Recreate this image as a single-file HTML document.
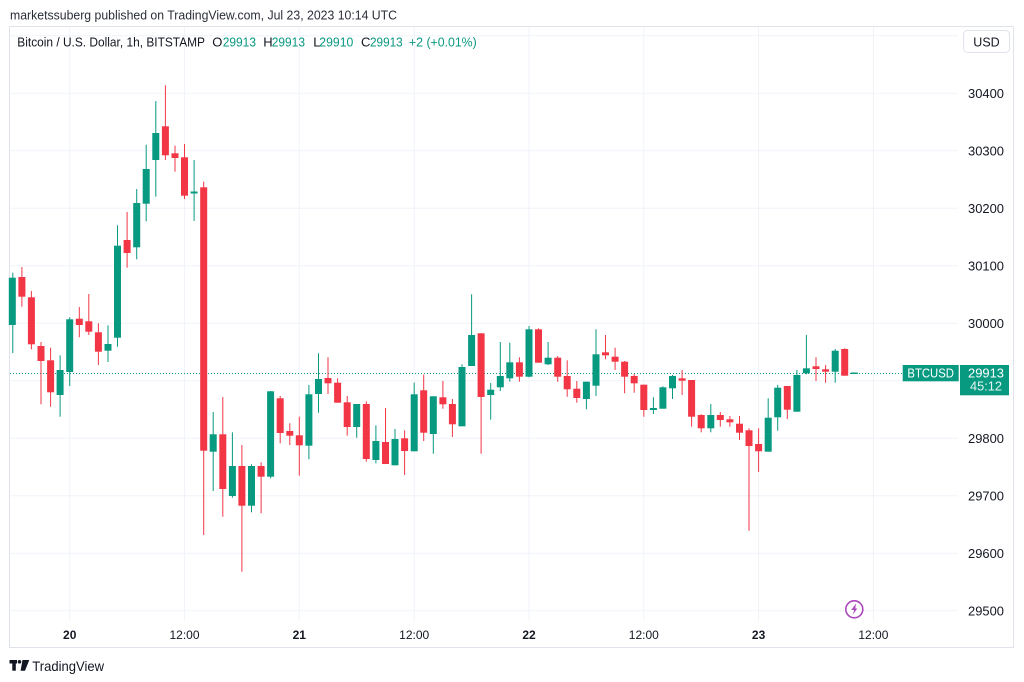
<!DOCTYPE html>
<html><head><meta charset="utf-8"><style>
html,body{margin:0;padding:0;background:#fff;width:1024px;height:682px;overflow:hidden}
svg{display:block}
text{font-family:"Liberation Sans",Arial,sans-serif}
</style></head><body>
<svg width="1024" height="682" viewBox="0 0 1024 682" xmlns="http://www.w3.org/2000/svg">
<rect width="1024" height="682" fill="#fff"/>
<text x="10" y="19.5" font-size="13" fill="#2a2e39" textLength="387" lengthAdjust="spacingAndGlyphs">marketssuberg published on TradingView.com, Jul 23, 2023 10:14 UTC</text>
<rect x="9.5" y="26.5" width="1004" height="621" fill="none" stroke="#e0e3eb" stroke-width="1"/>
<g stroke="#f0f3fa" stroke-width="1">
<line x1="10" y1="35.8" x2="958" y2="35.8"/>
<line x1="10" y1="93.3" x2="958" y2="93.3"/>
<line x1="10" y1="150.8" x2="958" y2="150.8"/>
<line x1="10" y1="208.3" x2="958" y2="208.3"/>
<line x1="10" y1="265.8" x2="958" y2="265.8"/>
<line x1="10" y1="323.3" x2="958" y2="323.3"/>
<line x1="10" y1="380.8" x2="958" y2="380.8"/>
<line x1="10" y1="438.3" x2="958" y2="438.3"/>
<line x1="10" y1="495.8" x2="958" y2="495.8"/>
<line x1="10" y1="553.3" x2="958" y2="553.3"/>
<line x1="10" y1="610.8" x2="958" y2="610.8"/>
<line x1="69.7" y1="27" x2="69.7" y2="621"/>
<line x1="184.5" y1="27" x2="184.5" y2="621"/>
<line x1="299.3" y1="27" x2="299.3" y2="621"/>
<line x1="414.2" y1="27" x2="414.2" y2="621"/>
<line x1="529" y1="27" x2="529" y2="621"/>
<line x1="643.8" y1="27" x2="643.8" y2="621"/>
<line x1="758.6" y1="27" x2="758.6" y2="621"/>
<line x1="873.4" y1="27" x2="873.4" y2="621"/>
</g>
<g font-size="13" fill="#131722">
<text x="17.3" y="46.5" textLength="187.7" lengthAdjust="spacingAndGlyphs">Bitcoin / U.S. Dollar, 1h, BITSTAMP</text>
<text x="212.3" y="46.5">O</text>
<text x="263.3" y="46.5">H</text>
<text x="313.3" y="46.5">L</text>
<text x="361" y="46.5">C</text>
</g>
<g font-size="13" fill="#089981">
<text x="222.7" y="46.5" textLength="33.3" lengthAdjust="spacingAndGlyphs">29913</text>
<text x="271.7" y="46.5" textLength="33.3" lengthAdjust="spacingAndGlyphs">29913</text>
<text x="319.3" y="46.5" textLength="34" lengthAdjust="spacingAndGlyphs">29910</text>
<text x="370" y="46.5" textLength="32.7" lengthAdjust="spacingAndGlyphs">29913</text>
<text x="409" y="46.5" textLength="67.7" lengthAdjust="spacingAndGlyphs">+2 (+0.01%)</text>
</g>
<rect x="963.5" y="30.5" width="46" height="22" rx="4" fill="#fff" stroke="#e0e3eb"/>
<text x="986.5" y="46.5" font-size="12.5" fill="#131722" text-anchor="middle">USD</text>
<g font-size="12.5" fill="#131722">
<text x="968" y="97.8" textLength="36" lengthAdjust="spacingAndGlyphs">30400</text>
<text x="968" y="155.3" textLength="36" lengthAdjust="spacingAndGlyphs">30300</text>
<text x="968" y="212.8" textLength="36" lengthAdjust="spacingAndGlyphs">30200</text>
<text x="968" y="270.3" textLength="36" lengthAdjust="spacingAndGlyphs">30100</text>
<text x="968" y="327.8" textLength="36" lengthAdjust="spacingAndGlyphs">30000</text>
<text x="968" y="442.8" textLength="36" lengthAdjust="spacingAndGlyphs">29800</text>
<text x="968" y="500.3" textLength="36" lengthAdjust="spacingAndGlyphs">29700</text>
<text x="968" y="557.8" textLength="36" lengthAdjust="spacingAndGlyphs">29600</text>
<text x="968" y="615.3" textLength="36" lengthAdjust="spacingAndGlyphs">29500</text>
</g>
<g font-size="12" fill="#131722" text-anchor="middle">
<text x="69.7" y="639" font-weight="bold">20</text>
<text x="184.5" y="639">12:00</text>
<text x="299.3" y="639" font-weight="bold">21</text>
<text x="414.2" y="639">12:00</text>
<text x="529" y="639" font-weight="bold">22</text>
<text x="643.8" y="639">12:00</text>
<text x="758.6" y="639" font-weight="bold">23</text>
<text x="873.4" y="639">12:00</text>
</g>
<line x1="10" y1="373.5" x2="903" y2="373.5" stroke="#089981" stroke-width="1" stroke-dasharray="1 2"/>
<g fill="#089981">
<rect x="12.3" y="272.7" width="1" height="80.3"/><rect x="8.8" y="277.7" width="7" height="47.3"/>
<rect x="59.6" y="355.3" width="1" height="61.4"/><rect x="56.6" y="370" width="7" height="25"/>
<rect x="69.2" y="317.3" width="1" height="68.7"/><rect x="66.2" y="319.3" width="7" height="52.7"/>
<rect x="107.5" y="325.3" width="1" height="36.7"/><rect x="104.5" y="344" width="7" height="6.7"/>
<rect x="117" y="225.3" width="1" height="121.4"/><rect x="114" y="245.7" width="7" height="92"/>
<rect x="136.2" y="189" width="1" height="70.3"/><rect x="133.2" y="203" width="7" height="44.3"/>
<rect x="145.7" y="144.7" width="1" height="76.6"/><rect x="142.7" y="169" width="7" height="34.7"/>
<rect x="155.3" y="101" width="1" height="95.7"/><rect x="152.3" y="133" width="7" height="27"/>
<rect x="193.6" y="160" width="1" height="61"/><rect x="190.6" y="191.5" width="7" height="2"/>
<rect x="212.7" y="412" width="1" height="79"/><rect x="209.7" y="434.3" width="7" height="17.4"/>
<rect x="231.9" y="432.3" width="1" height="65.4"/><rect x="228.9" y="466" width="7" height="30"/>
<rect x="251" y="464.3" width="1" height="48"/><rect x="248" y="466" width="7" height="39.7"/>
<rect x="270.1" y="391" width="1" height="87.3"/><rect x="267.1" y="391.3" width="7" height="85.4"/>
<rect x="308.4" y="385" width="1" height="74.3"/><rect x="305.4" y="394.3" width="7" height="51.4"/>
<rect x="318" y="353.3" width="1" height="59.4"/><rect x="315" y="379" width="7" height="15"/>
<rect x="356.2" y="404" width="1" height="33.7"/><rect x="353.2" y="404" width="7" height="23"/>
<rect x="375.4" y="425.3" width="1" height="38"/><rect x="372.4" y="441" width="7" height="19"/>
<rect x="394.5" y="429" width="1" height="36.3"/><rect x="391.5" y="439" width="7" height="26.3"/>
<rect x="413.7" y="382.7" width="1" height="68.6"/><rect x="410.7" y="394.3" width="7" height="57"/>
<rect x="432.8" y="396.3" width="1" height="57.4"/><rect x="429.8" y="396.3" width="7" height="37.7"/>
<rect x="461.5" y="364.3" width="1" height="62"/><rect x="458.5" y="367" width="7" height="59.3"/>
<rect x="471.1" y="294.3" width="1" height="71.7"/><rect x="468.1" y="335" width="7" height="31"/>
<rect x="490.2" y="383" width="1" height="36.7"/><rect x="487.2" y="389.7" width="7" height="5.3"/>
<rect x="499.8" y="342" width="1" height="49"/><rect x="496.8" y="376" width="7" height="11.3"/>
<rect x="509.3" y="342.7" width="1" height="39"/><rect x="506.3" y="362.3" width="7" height="16"/>
<rect x="528.5" y="326" width="1" height="51.3"/><rect x="525.5" y="329.3" width="7" height="47.4"/>
<rect x="547.6" y="342" width="1" height="23"/><rect x="544.6" y="357.7" width="7" height="6.6"/>
<rect x="585.9" y="381.7" width="1" height="27.6"/><rect x="582.9" y="381.7" width="7" height="17.3"/>
<rect x="595.5" y="329.3" width="1" height="66.7"/><rect x="592.5" y="354.3" width="7" height="31.4"/>
<rect x="652.9" y="397.3" width="1" height="16.7"/><rect x="649.9" y="408" width="7" height="2"/>
<rect x="662.4" y="386.3" width="1" height="22.4"/><rect x="659.4" y="387.3" width="7" height="21.4"/>
<rect x="672" y="375" width="1" height="24"/><rect x="669" y="376" width="7" height="12.3"/>
<rect x="710.3" y="404" width="1" height="28.3"/><rect x="707.3" y="415" width="7" height="13.3"/>
<rect x="767.7" y="398.3" width="1" height="53.4"/><rect x="764.7" y="417.7" width="7" height="34"/>
<rect x="777.2" y="385" width="1" height="45.7"/><rect x="774.2" y="387.7" width="7" height="29.6"/>
<rect x="796.4" y="370" width="1" height="41.7"/><rect x="793.4" y="375" width="7" height="36.7"/>
<rect x="805.9" y="335" width="1" height="39.3"/><rect x="802.9" y="368.3" width="7" height="5"/>
<rect x="834.7" y="349" width="1" height="33.7"/><rect x="831.7" y="350.7" width="7" height="21"/>
<rect x="850.8" y="372.5" width="7" height="1.5"/>
</g>
<g fill="#f23645">
<rect x="21.4" y="267" width="1" height="39.7"/><rect x="18.4" y="277" width="7" height="19.7"/>
<rect x="30.9" y="291" width="1" height="58.3"/><rect x="27.9" y="297.3" width="7" height="47"/>
<rect x="40.5" y="342" width="1" height="62.3"/><rect x="37.5" y="346" width="7" height="15"/>
<rect x="50.1" y="347.7" width="1" height="59"/><rect x="47.1" y="360.3" width="7" height="32"/>
<rect x="78.8" y="307" width="1" height="30.3"/><rect x="75.8" y="318.7" width="7" height="6.3"/>
<rect x="88.3" y="294" width="1" height="41"/><rect x="85.3" y="321.3" width="7" height="10.4"/>
<rect x="97.9" y="323.3" width="1" height="41.7"/><rect x="94.9" y="332.3" width="7" height="19.4"/>
<rect x="126.6" y="212" width="1" height="55.7"/><rect x="123.6" y="240" width="7" height="13"/>
<rect x="164.9" y="85.3" width="1" height="74.7"/><rect x="161.9" y="126.3" width="7" height="29"/>
<rect x="174.5" y="145.7" width="1" height="26"/><rect x="171.5" y="153.3" width="7" height="4.7"/>
<rect x="184" y="144" width="1" height="55"/><rect x="181" y="157.3" width="7" height="38.4"/>
<rect x="203.2" y="181.7" width="1" height="353.3"/><rect x="200.2" y="187.3" width="7" height="263.4"/>
<rect x="222.3" y="397" width="1" height="119.7"/><rect x="219.3" y="434.3" width="7" height="54.7"/>
<rect x="241.4" y="445" width="1" height="126.7"/><rect x="238.4" y="466" width="7" height="39.7"/>
<rect x="260.6" y="462.3" width="1" height="51"/><rect x="257.6" y="466" width="7" height="10.7"/>
<rect x="279.7" y="396" width="1" height="47.3"/><rect x="276.7" y="398.3" width="7" height="34.7"/>
<rect x="289.3" y="423.3" width="1" height="21.7"/><rect x="286.3" y="431" width="7" height="4.7"/>
<rect x="298.8" y="416.7" width="1" height="59"/><rect x="295.8" y="435.3" width="7" height="10"/>
<rect x="327.5" y="357.3" width="1" height="36.7"/><rect x="324.5" y="378" width="7" height="5.3"/>
<rect x="337.1" y="378.3" width="1" height="24.4"/><rect x="334.1" y="382.7" width="7" height="20"/>
<rect x="346.7" y="396" width="1" height="39.7"/><rect x="343.7" y="402.3" width="7" height="24.7"/>
<rect x="365.8" y="401.3" width="1" height="60.4"/><rect x="362.8" y="404" width="7" height="55"/>
<rect x="385" y="408" width="1" height="56"/><rect x="382" y="442" width="7" height="22"/>
<rect x="404.1" y="430.3" width="1" height="44.7"/><rect x="401.1" y="438.3" width="7" height="12.7"/>
<rect x="423.2" y="374.7" width="1" height="66.3"/><rect x="420.2" y="390.3" width="7" height="42.4"/>
<rect x="442.4" y="381" width="1" height="27.7"/><rect x="439.4" y="397.3" width="7" height="7"/>
<rect x="451.9" y="399" width="1" height="38"/><rect x="448.9" y="404" width="7" height="20.3"/>
<rect x="480.6" y="333.3" width="1" height="120.4"/><rect x="477.6" y="333.3" width="7" height="63.7"/>
<rect x="518.9" y="357.3" width="1" height="24.4"/><rect x="515.9" y="362.3" width="7" height="14.4"/>
<rect x="538" y="328.3" width="1" height="34.4"/><rect x="535" y="329.3" width="7" height="33.4"/>
<rect x="557.2" y="356" width="1" height="25.7"/><rect x="554.2" y="357.7" width="7" height="19"/>
<rect x="566.7" y="360.3" width="1" height="36.4"/><rect x="563.7" y="376" width="7" height="13.3"/>
<rect x="576.3" y="381" width="1" height="21.7"/><rect x="573.3" y="388.7" width="7" height="9.3"/>
<rect x="605" y="335" width="1" height="24.3"/><rect x="602" y="352.3" width="7" height="3"/>
<rect x="614.6" y="347.7" width="1" height="22.3"/><rect x="611.6" y="356.7" width="7" height="5"/>
<rect x="624.1" y="361" width="1" height="32.3"/><rect x="621.1" y="361.7" width="7" height="15"/>
<rect x="633.7" y="374" width="1" height="18.7"/><rect x="630.7" y="376" width="7" height="7.3"/>
<rect x="643.3" y="384.7" width="1" height="32"/><rect x="640.3" y="384.7" width="7" height="25.3"/>
<rect x="681.6" y="370" width="1" height="25"/><rect x="678.6" y="378.3" width="7" height="2.4"/>
<rect x="691.1" y="380" width="1" height="46.7"/><rect x="688.1" y="380" width="7" height="36.7"/>
<rect x="700.7" y="414.3" width="1" height="18"/><rect x="697.7" y="415" width="7" height="13.3"/>
<rect x="719.8" y="412" width="1" height="14.7"/><rect x="716.8" y="415" width="7" height="5"/>
<rect x="729.4" y="416" width="1" height="10.7"/><rect x="726.4" y="419.3" width="7" height="3"/>
<rect x="739" y="416" width="1" height="24"/><rect x="736" y="423.7" width="7" height="9"/>
<rect x="748.5" y="428.3" width="1" height="102.4"/><rect x="745.5" y="430.3" width="7" height="15.7"/>
<rect x="758.1" y="428.3" width="1" height="43.7"/><rect x="755.1" y="444" width="7" height="7.3"/>
<rect x="786.8" y="386" width="1" height="33"/><rect x="783.8" y="386" width="7" height="23.7"/>
<rect x="815.5" y="357.3" width="1" height="23.7"/><rect x="812.5" y="366.3" width="7" height="2.7"/>
<rect x="825.1" y="365" width="1" height="17.7"/><rect x="822.1" y="369.3" width="7" height="2.4"/>
<rect x="844.2" y="348.3" width="1" height="27.4"/><rect x="841.2" y="349" width="7" height="26.7"/>
</g>
<rect x="902.7" y="365" width="56" height="16.3" fill="#089981"/>
<text x="930.7" y="377.3" font-size="12.5" fill="#fff" text-anchor="middle" textLength="46.6" lengthAdjust="spacingAndGlyphs">BTCUSD</text>
<rect x="960" y="365" width="49" height="30.3" fill="#089981"/>
<text x="986" y="377.3" font-size="12.5" fill="#fff" text-anchor="middle" textLength="36" lengthAdjust="spacingAndGlyphs">29913</text>
<text x="986" y="390.7" font-size="12.5" fill="#e6f5f2" text-anchor="middle" textLength="32" lengthAdjust="spacingAndGlyphs">45:12</text>
<circle cx="854.3" cy="609.3" r="8.5" fill="#fff" stroke="#ab47bc" stroke-width="1.6"/>
<path d="M856 603.5 L851.3 610 L854.3 610 L852.6 615 L857.3 608.5 L855.3 608.5 Z" fill="#ab47bc"/>
<g fill="#131722">
<rect x="9.5" y="660" width="7.5" height="3.5"/>
<rect x="12.3" y="660" width="3.5" height="10.7"/>
<circle cx="19.5" cy="661.8" r="1.8"/>
<path d="M22.5 660 L29.3 660 L25 670.7 L20.6 670.7 Z"/>
</g>
<text x="32.3" y="671" font-size="14" fill="#131722" textLength="71.7" lengthAdjust="spacingAndGlyphs">TradingView</text>
</svg>
</body></html>
